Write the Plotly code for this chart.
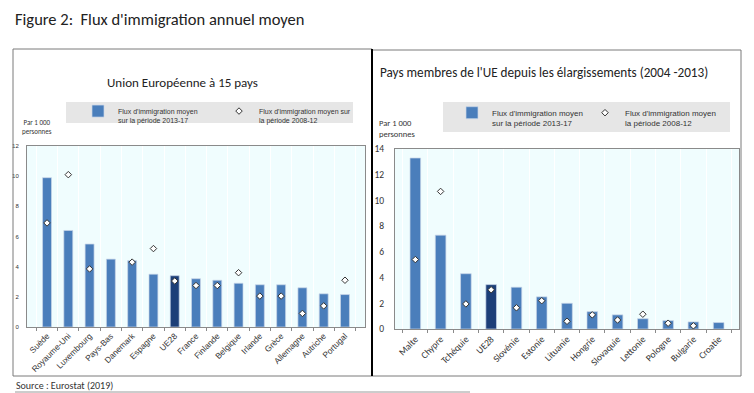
import plotly.graph_objects as go

# The page adds an 8px body margin, so the figure is sized to fill the window exactly.
PAGE_OFF = 8
W, H = 754 - PAGE_OFF, 393 - PAGE_OFF

# ---------------- data ----------------
eu15_countries = ["Suède", "Royaume-Uni", "Luxembourg", "Pays-Bas", "Danemark", "Espagne", "UE28",
                  "France", "Finlande", "Belgique", "Irlande", "Grèce", "Allemagne", "Autriche", "Portugal"]
eu15_flow_2013_17 = [9.9, 6.4, 5.5, 4.5, 4.4, 3.5, 3.4, 3.2, 3.1, 2.9, 2.8, 2.8, 2.6, 2.2, 2.15]
eu15_flow_2008_12 = [6.9, 10.1, 3.85, None, 4.3, 5.2, 3.05, 2.75, 2.75, 3.6, 2.05, 2.05, 0.9, 1.4, 3.1]

new_countries = ["Malte", "Chypre", "Tchéquie", "UE28", "Slovénie", "Estonie", "Lituanie",
                 "Hongrie", "Slovaquie", "Lettonie", "Pologne", "Bulgarie", "Croatie"]
new_flow_2013_17 = [13.3, 7.3, 4.3, 3.45, 3.25, 2.5, 2.0, 1.35, 1.1, 0.8, 0.65, 0.55, 0.5]
new_flow_2008_12 = [5.4, 10.7, 1.95, 3.05, 1.65, 2.2, 0.6, 1.1, 0.7, 1.15, 0.45, 0.25, None]

left_yticks = [0, 2, 4, 6, 8, 10, 12]
right_yticks = [0, 2, 4, 6, 8, 10, 12, 14]

BAR = "#4a7ebb"
BAR_DARK = "#1c3f78"
BG = "#f0fdfe"
CALIBRI = "Carlito, Lato, 'Open Sans', sans-serif"
NARROW = "'Liberation Sans Narrow', 'Arial Narrow', 'Liberation Sans', Arial, sans-serif"

def px_x(p):
    return (p - PAGE_OFF) / W

def px_y(p):
    return 1 - (p - PAGE_OFF) / H

fig = go.Figure()

def add_panel(cats, bars, dots, xa, ya, legend):
    colors = [BAR_DARK if c == "UE28" else BAR for c in cats]
    fig.add_trace(go.Bar(
        x=cats, y=bars, xaxis=xa, yaxis=ya, width=0.42,
        marker=dict(color=colors, line=dict(color="#c9d6e8", width=0.7)),
        name="Flux d'immigration moyen<br>sur la période 2013-17",
        legend=legend, showlegend=True,
    ))
    fig.add_trace(go.Scatter(
        x=cats, y=dots, xaxis=xa, yaxis=ya, mode="markers",
        marker=dict(symbol="diamond", size=5, color="white", line=dict(color="#333333", width=1)),
        name="Flux d'immigration moyen sur<br>la période 2008-12",
        legend=legend, showlegend=True,
    ))

add_panel(eu15_countries, eu15_flow_2013_17, eu15_flow_2008_12, "x", "y", "legend")
add_panel(new_countries, new_flow_2013_17, new_flow_2008_12, "x2", "y2", "legend2")

axis_common = dict(showline=True, mirror=True, linecolor="#8a8a8a", linewidth=1, zeroline=False)

fig.update_layout(
    width=W, height=H,
    margin=dict(l=0, r=0, t=0, b=0, autoexpand=False),
    paper_bgcolor="white",
    plot_bgcolor=BG,
    xaxis=dict(domain=[px_x(27), px_x(365)], anchor="y", type="category",
               tickson="boundaries", showgrid=True, gridcolor="white", gridwidth=1,
               ticks="outside", ticklen=3, tickcolor="#8a8a8a", tickangle=-45,
               tickfont=dict(family=NARROW, size=8.3, color="#333333"), **axis_common),
    yaxis=dict(domain=[px_y(327), px_y(146)], anchor="x", range=[0, 12], tickvals=left_yticks,
               showgrid=False, ticks="", ticklabelstandoff=6,
               tickfont=dict(family=NARROW, size=6, color="#333333"), **axis_common),
    xaxis2=dict(domain=[px_x(395), px_x(739)], anchor="y2", type="category",
                tickson="boundaries", showgrid=True, gridcolor="white", gridwidth=1,
                ticks="outside", ticklen=3, tickcolor="#8a8a8a", tickangle=-45,
                tickfont=dict(family=CALIBRI, size=9.5, color="#333333"), **axis_common),
    yaxis2=dict(domain=[px_y(329), px_y(149)], anchor="x2", range=[0, 14], tickvals=right_yticks,
                showgrid=False, ticks="", ticklabelstandoff=8,
                tickfont=dict(family=CALIBRI, size=9.5, color="#333333"), **axis_common),
    legend=dict(x=px_x(78), y=px_y(100), xanchor="left", yanchor="top", orientation="h",
                bgcolor="rgba(0,0,0,0)", font=dict(family=NARROW, size=7, color="#333333"),
                entrywidth=96, entrywidthmode="pixels", itemwidth=30, traceorder="normal",
                valign="top"),
    legend2=dict(x=px_x(452), y=px_y(101), xanchor="left", yanchor="top", orientation="h",
                 bgcolor="rgba(0,0,0,0)", font=dict(family=NARROW, size=8, color="#333333"),
                 entrywidth=88, entrywidthmode="pixels", itemwidth=30, traceorder="normal",
                 valign="top"),
    shapes=[
        # legend backgrounds
        dict(type="rect", xref="paper", yref="paper", x0=px_x(66), x1=px_x(353), y0=px_y(123), y1=px_y(102),
             fillcolor="#e6e6e6", line=dict(width=0), layer="below"),
        dict(type="rect", xref="paper", yref="paper", x0=px_x(443), x1=px_x(730), y0=px_y(132), y1=px_y(102),
             fillcolor="#e6e6e6", line=dict(width=0), layer="below"),
        # panel frames
        dict(type="rect", xref="paper", yref="paper", x0=px_x(13), x1=px_x(372), y0=px_y(376), y1=px_y(49),
             line=dict(color="#7a7a7a", width=1)),
        dict(type="rect", xref="paper", yref="paper", x0=px_x(372), x1=px_x(741), y0=px_y(376), y1=px_y(50),
             line=dict(color="#7a7a7a", width=1)),
        dict(type="line", xref="paper", yref="paper", x0=px_x(372), x1=px_x(372), y0=px_y(376), y1=px_y(49),
             line=dict(color="black", width=2)),
        # bottom rule
        dict(type="line", xref="paper", yref="paper", x0=px_x(15), x1=px_x(470), y0=px_y(392), y1=px_y(392),
             line=dict(color="#9a9a9a", width=1)),
    ],
    annotations=[
        dict(text="Figure 2:  Flux d'immigration annuel moyen", x=px_x(14), y=px_y(8), xref="paper", yref="paper",
             xanchor="left", yanchor="top", showarrow=False, borderpad=0,
             font=dict(family=CALIBRI, size=16.5, color="#222222")),
        dict(text="Union Européenne à 15 pays", x=px_x(182), y=px_y(82), xref="paper", yref="paper",
             xanchor="center", yanchor="middle", showarrow=False, font=dict(family=CALIBRI, size=13, color="#222222")),
        dict(text="Pays membres de l'UE depuis les élargissements (2004 -2013)", x=px_x(378), y=px_y(73),
             xref="paper", yref="paper", xanchor="left", yanchor="middle", showarrow=False,
             font=dict(family=CALIBRI, size=13.2, color="#222222")),
        dict(text="Par 1 000<br>personnes", x=px_x(37), y=px_y(127), xref="paper", yref="paper",
             xanchor="center", yanchor="middle", showarrow=False, align="center",
             font=dict(family=CALIBRI, size=7, color="#333333")),
        dict(text="Par 1 000<br>personnes", x=px_x(377), y=px_y(128), xref="paper", yref="paper",
             xanchor="left", yanchor="middle", showarrow=False, align="left",
             font=dict(family=CALIBRI, size=8.5, color="#333333")),
        dict(text="Source : Eurostat (2019)", x=px_x(14), y=px_y(385), xref="paper", yref="paper",
             xanchor="left", yanchor="middle", showarrow=False, font=dict(family=CALIBRI, size=10, color="#333333")),
    ],
)

fig.write_html("out.html")
